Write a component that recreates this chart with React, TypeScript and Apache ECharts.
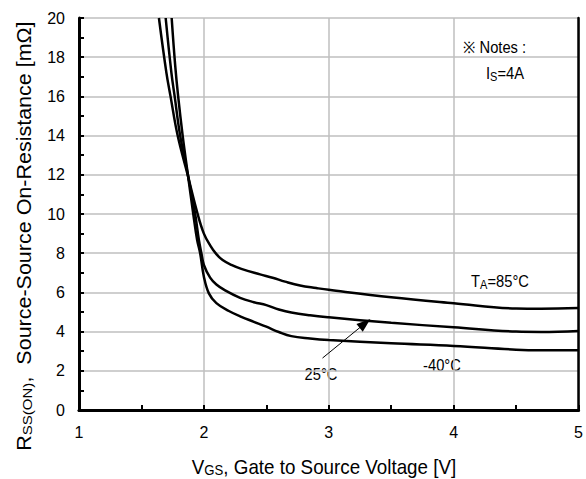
import React, { useEffect, useRef } from "react";
import * as echarts from "echarts";

const xTicks = [1, 2, 3, 4, 5];
const yTicks = [0, 2, 4, 6, 8, 10, 12, 14, 16, 18, 20];

const vgs85 = [1.64, 1.70, 1.733, 1.79, 1.87, 1.95, 2.0, 2.05, 2.1, 2.15, 2.22, 2.3, 2.45, 2.55, 2.65, 2.77, 2.9, 3.0, 3.5, 4.0, 4.5, 4.7, 5.0];
const r85 = [20, 17.2, 16, 14, 12, 10, 9.0, 8.4, 7.95, 7.65, 7.4, 7.2, 6.92, 6.75, 6.55, 6.35, 6.22, 6.13, 5.75, 5.45, 5.18, 5.17, 5.2];

const vgs25 = [1.694, 1.74, 1.766, 1.81, 1.872, 1.93, 1.96, 1.98, 2.0, 2.05, 2.1, 2.17, 2.29, 2.4, 2.5, 2.6, 2.7, 2.85, 3.0, 3.5, 4.0, 4.5, 4.7, 5.0];
const r25 = [20, 17.2, 16, 14, 12, 10, 8.67, 8.0, 7.4, 6.75, 6.4, 6.1, 5.72, 5.5, 5.35, 5.13, 4.97, 4.83, 4.73, 4.45, 4.22, 4.0, 3.98, 4.03];

const vgsM40 = [1.742, 1.77, 1.794, 1.83, 1.872, 1.915, 1.946, 1.97, 2.0, 2.04, 2.1, 2.2, 2.3, 2.4, 2.5, 2.6, 2.7, 2.85, 3.0, 3.5, 4.0, 4.5, 4.7, 5.0];
const rM40 = [20, 17.6, 16, 14, 12, 10, 8.67, 8.0, 6.8, 5.95, 5.45, 5.05, 4.75, 4.5, 4.25, 3.98, 3.77, 3.65, 3.57, 3.4, 3.27, 3.08, 3.05, 3.05];

const arrowFrom = [2.95, 2.65];
const arrowTo = [3.29, 4.42];

const zip = (xs: number[], ys: number[]) => xs.map((x, i) => [x, ys[i]]);

const FONT = "'Liberation Sans', Arial, sans-serif";

export default function App() {
  const ref = useRef<HTMLDivElement>(null);
  useEffect(() => {
    document.body.style.margin = "0";
    if (!ref.current) return;
    const chart = echarts.init(ref.current, null, { renderer: "svg" });
    const lineStyle = { color: "#000", width: 2.5 };
    const mkSeries = (name: string, data: number[][]) => ({
      name,
      type: "line",
      data,
      smooth: 0.4,
      showSymbol: false,
      symbol: "none",
      lineStyle,
      z: 5,
    });
    const baseX = {
      type: "value",
      min: xTicks[0],
      max: xTicks[xTicks.length - 1],
      interval: 1,
    };
    const baseY = {
      type: "value",
      min: yTicks[0],
      max: yTicks[yTicks.length - 1],
      interval: 2,
    };
    const frameAxis = {
      axisLine: { show: true, lineStyle: { color: "#000", width: 2.5 } },
      axisTick: { show: false },
      axisLabel: { show: false },
      splitLine: { show: false },
    };
    const subText = (fs: number, sfs: number, pad: number) => ({
      n: { fontSize: fs, fontFamily: FONT, fill: "#000" },
      s: { fontSize: sfs, fontFamily: FONT, fill: "#000", padding: [pad, 0, 0, 0] },
    });
    const option: any = {
      animation: false,
      textStyle: { fontFamily: FONT },
      grid: {
        left: 79,
        right: 7,
        top: 18,
        bottom: 69,
      },
      xAxis: [
        {
          ...baseX,
          axisLine: { lineStyle: { color: "#000", width: 3 } },
          axisTick: { show: true, inside: true, length: 5, lineStyle: { color: "#000", width: 2 } },
          minorTick: { show: true, splitNumber: 2, length: 5, lineStyle: { color: "#000", width: 2 } },
          splitLine: { show: true, lineStyle: { color: "#bfbfbf", width: 1.5 } },
          axisLabel: { color: "#000", fontSize: 16, fontFamily: FONT, margin: 14, showMaxLabel: true, showMinLabel: true },
        },
        { ...baseX, position: "top", ...frameAxis },
      ],
      yAxis: [
        {
          ...baseY,
          axisLine: { lineStyle: { color: "#000", width: 3 } },
          axisTick: { show: true, inside: true, length: 5, lineStyle: { color: "#000", width: 2 } },
          minorTick: { show: true, splitNumber: 2, length: 5, lineStyle: { color: "#000", width: 2 } },
          splitLine: { show: true, lineStyle: { color: "#bfbfbf", width: 1.5 } },
          axisLabel: { color: "#000", fontSize: 16, fontFamily: FONT, margin: 14, showMaxLabel: true },
        },
        { ...baseY, position: "right", ...frameAxis },
      ],
      series: [
        mkSeries("85°C", zip(vgs85, r85)),
        {
          ...mkSeries("25°C", zip(vgs25, r25)),
          markLine: {
            silent: true,
            symbol: ["none", "triangle"],
            symbolSize: [10, 14],
            label: { show: false },
            lineStyle: { color: "#000", width: 1, type: "solid" },
            data: [[{ coord: arrowFrom }, { coord: arrowTo }]],
          },
        },
        mkSeries("-40°C", zip(vgsM40, rM40)),
      ],
      graphic: [
        {
          type: "text",
          x: 24,
          y: 236,
          rotation: Math.PI / 2,
          scaleY: 0.9,
          style: {
            text: "{n|R}{s|SS(ON)}{n|,  Source-Source On-Resistance [mΩ]}",
            align: "center",
            verticalAlign: "middle",
            fill: "#000",
            rich: subText(21.5, 15, 7),
          },
        },
        {
          type: "text",
          x: 324,
          y: 467,
          scaleX: 0.94,
          style: {
            text: "{n|V}{s|GS}{n|, Gate to Source Voltage [V]}",
            align: "center",
            verticalAlign: "middle",
            fill: "#000",
            rich: subText(20, 14, 6),
          },
        },
        {
          type: "text",
          x: 463,
          y: 47,
          scaleX: 0.92,
          style: { text: "※ Notes :", fontSize: 16, fontFamily: FONT, fill: "#000", verticalAlign: "middle" },
        },
        {
          type: "text",
          x: 505,
          y: 73,
          scaleX: 0.92,
          style: {
            text: "{n|I}{s|S}{n|=4A}",
            align: "center",
            verticalAlign: "middle",
            rich: subText(16, 12, 7),
          },
        },
        {
          type: "text",
          x: 500,
          y: 281,
          scaleX: 0.92,
          style: {
            text: "{n|T}{s|A}{n|=85°C}",
            align: "center",
            verticalAlign: "middle",
            rich: subText(16, 12, 7),
          },
        },
        {
          type: "text",
          x: 321,
          y: 374,
          scaleX: 0.92,
          style: { text: "25°C", fontSize: 16, fontFamily: FONT, fill: "#000", align: "center", verticalAlign: "middle" },
        },
        {
          type: "text",
          x: 442,
          y: 365,
          scaleX: 0.92,
          style: { text: "-40°C", fontSize: 16, fontFamily: FONT, fill: "#000", align: "center", verticalAlign: "middle" },
        },
      ],
    };
    chart.setOption(option);
    return () => chart.dispose();
  }, []);
  return <div ref={ref} style={{ width: 586, height: 479 }} />;
}
